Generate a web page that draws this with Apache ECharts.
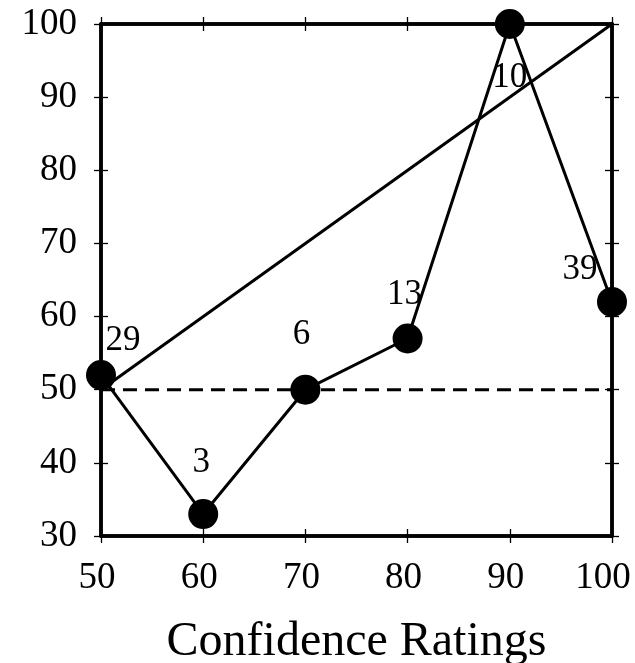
<!DOCTYPE html>
<html>
<head>
    <meta charset="UTF-8">
    <title>Confidence Ratings</title>
    <script src="https://cdn.jsdelivr.net/npm/echarts@6/dist/echarts.min.js"></script>
    <style>
        html, body { margin: 0; padding: 0; background: #fff; }
        #chart { width: 635px; height: 663px; }
    </style>
</head>
<body>
<div id="chart"></div>
<script type="text/javascript">
    // data
    var ratings = [50, 60, 70, 80, 90, 100];
    var percentCorrect = [52, 33, 50, 57, 100, 62];
    var counts = ['29', '3', '6', '13', '10', '39'];
    var xTicks = [50, 60, 70, 80, 90, 100];
    var yTicks = [30, 40, 50, 60, 70, 80, 90, 100];
    var perfectLine = [[50, 50], [100, 100]];
    var chanceLine = [[50, 50], [100, 50]];

    // where each count label sits relative to its dot
    var labelShift = [[22, -34], [-2, -51], [-4, -55], [-3, -44], [0, 54], [-32, -32]];

    var font = '"Liberation Serif", "Times New Roman", serif';
    var gridBox = { left: 101, right: 23, top: 24, bottom: 127, outerBoundsMode: 'none' };

    function valueAxis(extra, ticks) {
        var ax = {
            type: 'value',
            min: ticks[0],
            max: ticks[ticks.length - 1],
            interval: ticks[1] - ticks[0],
            axisLine: { show: true, onZero: false, lineStyle: { color: '#000', width: 3.5 } },
            axisTick: { show: true, inside: false, length: 7, lineStyle: { color: '#000', width: 1.3 } },
            axisLabel: { show: false },
            splitLine: { show: false }
        };
        for (var k in extra) ax[k] = extra[k];
        return ax;
    }

    var xAxes = [];
    var yAxes = [];
    [0, 1].forEach(function (g) {
        var inside = g === 1;
        var bottom = valueAxis({ gridIndex: g, position: 'bottom' }, xTicks);
        bottom.axisTick.inside = inside;
        if (g === 0) {
            bottom.axisLabel = {
                show: true, margin: 24, color: '#000', fontFamily: font, fontSize: 37,
                padding: [0, 8, 0, 0],
                // the last label is pulled in so it stays on the page
                formatter: function (v) {
                    return v === xTicks[xTicks.length - 1] ? '{last|' + v + '}' : String(v);
                },
                rich: { last: { fontFamily: font, fontSize: 37, color: '#000', padding: [0, 10, 0, 0] } }
            };
            bottom.name = 'Confidence Ratings';
            bottom.nameLocation = 'middle';
            bottom.nameGap = 82;
            bottom.nameTextStyle = { color: '#000', fontFamily: font, fontSize: 48 };
        }
        var top = valueAxis({ gridIndex: g, position: 'top' }, xTicks);
        top.axisTick.inside = inside;
        xAxes.push(bottom, top);

        var left = valueAxis({ gridIndex: g, position: 'left' }, yTicks);
        left.axisTick.inside = inside;
        if (g === 0) {
            left.axisLabel = { show: true, margin: 24, color: '#000', fontFamily: font, fontSize: 37 };
        }
        var right = valueAxis({ gridIndex: g, position: 'right' }, yTicks);
        right.axisTick.inside = inside;
        yAxes.push(left, right);
    });

    var dots = ratings.map(function (r, i) {
        return {
            value: [r, percentCorrect[i]],
            label: { show: true, formatter: counts[i], position: 'inside', offset: labelShift[i] }
        };
    });

    var myChart = echarts.init(document.getElementById('chart'));
    var option = {
        animation: false,
        backgroundColor: '#fff',
        grid: [gridBox, gridBox],
        xAxis: xAxes,
        yAxis: yAxes,
        series: [
            {
                type: 'line',
                xAxisIndex: 0,
                yAxisIndex: 0,
                data: chanceLine,
                symbol: 'none',
                z: 2,
                lineStyle: { color: '#000', width: 3, type: [14, 8] }
            },
            {
                type: 'line',
                xAxisIndex: 0,
                yAxisIndex: 0,
                data: perfectLine,
                symbol: 'none',
                z: 2,
                lineStyle: { color: '#000', width: 3 }
            },
            {
                type: 'line',
                xAxisIndex: 0,
                yAxisIndex: 0,
                data: dots,
                symbol: 'circle',
                symbolSize: 30,
                z: 3,
                itemStyle: { color: '#000' },
                lineStyle: { color: '#000', width: 3 },
                label: { color: '#000', fontFamily: font, fontSize: 35 }
            }
        ]
    };
    myChart.setOption(option);
</script>
</body>
</html>
